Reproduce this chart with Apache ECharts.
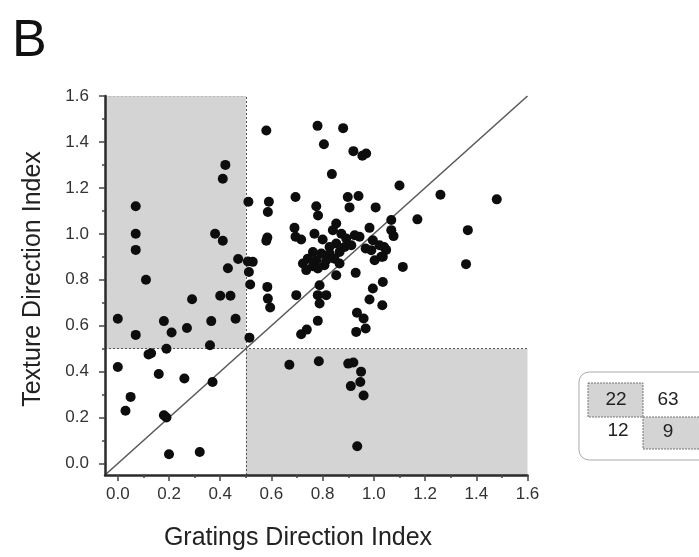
<!DOCTYPE html>
<html><head><meta charset="utf-8">
<script src="https://cdn.jsdelivr.net/npm/echarts@6/dist/echarts.min.js"></script>
<style>html,body{margin:0;padding:0;background:#fff}#c{width:699px;height:557px}</style>
</head><body><div id="c"></div>
<script>
const majorTicks = [0.0, 0.2, 0.4, 0.6, 0.8, 1.0, 1.2, 1.4, 1.6];
const minorTicks = [0.0, 0.1, 0.2, 0.3, 0.4, 0.5, 0.6, 0.7, 0.8, 0.9, 1.0, 1.1, 1.2, 1.3, 1.4, 1.5, 1.6];
const axisMin = -0.05, axisMax = 1.6;
const threshold = 0.5;
const quadrantCounts = ["22", "63", "12", "9"];
const xName = "Gratings Direction Index";
const yName = "Texture Direction Index";
const panelLabel = "B";

// gratings index (x), texture index (y)
const gratingsIdx = [
  // upper-left
  0.07,0.07,0.07,0.11,0.42,0.41,0.38,0.41,0.43,0.47,0.00,0.07,0.18,0.21,0.27,0.29,0.19,0.36,0.365,0.40,0.44,0.46,
  // lower-left
  0.00,0.05,0.03,0.12,0.13,0.16,0.26,0.37,0.18,0.19,0.20,0.32,
  // lower-right
  0.67,0.785,0.92,0.90,0.95,0.947,0.91,0.96,0.935,
  // upper-right
  0.58,0.78,0.88,0.805,0.92,0.955,0.97,0.836,1.10,1.26,1.48,0.51,0.59,0.586,0.694,0.898,0.94,0.905,1.007,0.775,0.782,
  1.17,1.068,1.068,1.077,0.584,0.58,0.69,0.694,0.716,0.853,0.983,1.367,1.36,1.113,1.035,1.033,1.04,1.048,1.035,
  0.768,0.80,0.84,0.873,0.892,0.925,0.944,0.853,0.827,0.886,0.912,0.762,0.795,0.827,0.866,0.742,0.775,0.814,0.846,
  0.723,0.762,0.807,0.866,0.781,0.736,
  0.996,0.99,1.022,1.029,1.003,0.968,
  0.853,0.929,0.788,0.697,0.781,0.814,0.788,0.996,0.983,0.781,0.738,0.716,0.934,0.96,0.931,0.968,
  0.508,0.527,0.512,0.517,0.584,0.586,0.595,0.514
];
const textureIdx = [
  1.12,1.00,0.93,0.80,1.30,1.24,1.00,0.97,0.85,0.89,0.63,0.56,0.62,0.57,0.59,0.715,0.50,0.515,0.62,0.73,0.73,0.63,
  0.42,0.29,0.23,0.475,0.48,0.39,0.37,0.355,0.21,0.20,0.04,0.05,
  0.43,0.445,0.44,0.435,0.40,0.355,0.337,0.296,0.075,
  1.45,1.47,1.46,1.39,1.36,1.34,1.35,1.26,1.21,1.17,1.15,1.14,1.14,1.095,1.16,1.16,1.165,1.115,1.115,1.12,1.08,
  1.063,1.06,1.016,0.99,0.984,0.97,1.026,0.987,0.975,1.045,1.026,1.016,0.868,0.856,0.79,0.689,0.943,0.93,0.90,
  1.00,0.975,1.016,1.00,0.98,0.994,0.987,0.958,0.943,0.943,0.95,0.921,0.914,0.914,0.921,0.892,0.885,0.885,0.892,
  0.871,0.859,0.863,0.871,0.849,0.842,
  0.972,0.929,0.95,0.90,0.885,0.936,
  0.82,0.83,0.776,0.733,0.733,0.733,0.697,0.762,0.714,0.621,0.583,0.563,0.656,0.631,0.573,0.588,
  0.88,0.878,0.834,0.779,0.769,0.718,0.679,0.548
];

const points = gratingsIdx.map((g, i) => [g, textureIdx[i]]);

const txt = '#222';
const chart = echarts.init(document.getElementById('c'), null, {renderer: 'canvas'});
const baseAxis = (labels, pos, margin) => ({
  type: 'value', min: axisMin, max: axisMax, position: pos, z: 10,
  axisLine: {show: labels, onZero: false, lineStyle: {color: '#2a2a2a', width: 2.5}},
  splitLine: {show: false},
  axisTick: {show: true, inside: false, length: labels ? 6 : 3,
    customValues: labels ? majorTicks : minorTicks,
    lineStyle: {color: '#444', width: 1.5}},
  axisLabel: {show: labels, customValues: majorTicks, margin: margin,
    formatter: v => v.toFixed(1), color: '#333', fontSize: 17, fontFamily: 'Liberation Sans'}
});

chart.setOption({
  animation: false,
  backgroundColor: '#fff',
  grid: {left: 105, top: 96, right: 171.5, bottom: 82, containLabel: false},
  xAxis: [baseAxis(true, 'bottom', 11), baseAxis(false, 'bottom', 11)],
  yAxis: [baseAxis(true, 'left', 16), baseAxis(false, 'left', 16)],
  series: [
    {
      type: 'line', data: [[axisMin, axisMin], [axisMax, axisMax]], symbol: 'none', z: 3,
      lineStyle: {color: '#5a5a5a', width: 1.6}, silent: true,
      markArea: {
        silent: true,
        itemStyle: {color: '#d4d4d4'},
        data: [
          [{coord: [axisMin, threshold]}, {coord: [threshold, axisMax]}],
          [{coord: [threshold, axisMin]}, {coord: [axisMax, threshold]}]
        ]
      },
      markLine: {
        silent: true, symbol: 'none', label: {show: false},
        lineStyle: {color: '#555', type: [2, 2], width: 1},
        data: [
          [{coord: [threshold, axisMin]}, {coord: [threshold, axisMax]}],
          [{coord: [axisMin, threshold]}, {coord: [axisMax, threshold]}],
          [{coord: [axisMin, axisMax], lineStyle: {color: '#bbb'}}, {coord: [threshold, axisMax], lineStyle: {color: '#bbb'}}]
        ]
      }
    },
    {
      type: 'scatter', data: points, symbol: 'circle', symbolSize: 10, z: 5,
      itemStyle: {color: '#0d0d0d', opacity: 1}
    }
  ],
  graphic: [
    {type: 'text', left: 12, top: 16, style: {text: panelLabel, fontSize: 52, fontFamily: 'Liberation Sans', fill: '#111'}},
    {type: 'text', x: 298, y: 538, style: {text: xName, fontSize: 25, fontFamily: 'Liberation Sans', fill: txt, align: 'center', verticalAlign: 'middle'}},
    {type: 'text', x: 33, y: 279, rotation: Math.PI / 2, style: {text: yName, fontSize: 25, fontFamily: 'Liberation Sans', fill: txt, align: 'center', verticalAlign: 'middle'}},
    {type: 'rect', shape: {x: 579, y: 372, width: 140, height: 88, r: 10}, style: {fill: '#fff', stroke: '#aaa', lineWidth: 1}},
    {type: 'rect', shape: {x: 588, y: 383, width: 55, height: 34}, style: {fill: '#d4d4d4', stroke: '#777', lineWidth: 1, lineDash: [2, 1]}},
    {type: 'rect', shape: {x: 643, y: 417, width: 60, height: 32}, style: {fill: '#d4d4d4', stroke: '#777', lineWidth: 1, lineDash: [2, 1]}},
    {type: 'text', x: 616, y: 400, style: {text: quadrantCounts[0], fontSize: 19, fontFamily: 'Liberation Sans', fill: txt, align: 'center', verticalAlign: 'middle'}},
    {type: 'text', x: 668, y: 400, style: {text: quadrantCounts[1], fontSize: 19, fontFamily: 'Liberation Sans', fill: txt, align: 'center', verticalAlign: 'middle'}},
    {type: 'text', x: 618, y: 431, style: {text: quadrantCounts[2], fontSize: 19, fontFamily: 'Liberation Sans', fill: txt, align: 'center', verticalAlign: 'middle'}},
    {type: 'text', x: 668, y: 432, style: {text: quadrantCounts[3], fontSize: 19, fontFamily: 'Liberation Sans', fill: txt, align: 'center', verticalAlign: 'middle'}}
  ]
});
</script>
</body></html>
